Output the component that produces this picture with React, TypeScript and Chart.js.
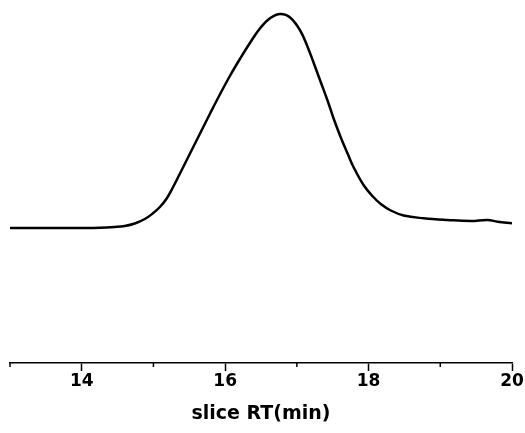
import React, { useEffect, useRef } from "react";
import { Chart, registerables } from "chart.js";

Chart.register(...registerables);

// retention time (min)
const rt: number[] = [
  13.0, 13.55, 13.97, 14.25, 14.46, 14.6, 14.74, 14.88, 14.99, 15.09,
  15.18, 15.26, 15.37, 15.51, 15.65, 15.79, 15.93, 16.07, 16.21, 16.35,
  16.49, 16.63, 16.77, 16.91, 17.05, 17.15, 17.23, 17.33, 17.43, 17.51,
  17.61, 17.71, 17.79, 17.93, 18.06, 18.17, 18.31, 18.49, 18.77, 19.1,
  19.43, 19.66, 19.8, 20.0,
];
// detector signal (arbitrary units)
const signal: number[] = [
  135, 135, 135, 135.2, 136, 137, 139.5, 144, 149.5, 156,
  164, 174, 189.5, 209.5, 229.5, 249.5, 269, 287.5, 304.5, 320.5,
  335, 345, 349, 345.3, 332, 316, 301, 281.5, 262, 245,
  226, 209, 196, 178, 166.5, 159, 152.5, 147.5, 144.7, 143,
  142, 143, 141.3, 139.7,
];
const majorTicks: number[] = [14, 16, 18, 20];
const minorTicks: number[] = [13, 15, 17, 19];
const xTitle = "slice RT(min)";

export default function App() {
  const ref = useRef<HTMLCanvasElement | null>(null);
  useEffect(() => {
    if (!ref.current) return;
    const minorPlugin = {
      id: "minorTicks",
      afterDraw(chart: any) {
        const sx = chart.scales.x;
        const ctx = chart.ctx;
        ctx.save();
        ctx.strokeStyle = "#000";
        ctx.lineWidth = 1.5;
        const y0 = sx.top;
        for (const v of minorTicks) {
          const px = sx.getPixelForValue(v);
          ctx.beginPath();
          ctx.moveTo(px, y0);
          ctx.lineTo(px, y0 + 4);
          ctx.stroke();
        }
        ctx.restore();
      },
    };
    const chart = new Chart(ref.current, {
      type: "line",
      data: {
        datasets: [
          {
            data: rt.map((x, i) => ({ x, y: signal[i] })),
            borderColor: "#000",
            borderWidth: 2.5,
            pointRadius: 0,
            tension: 0.4,
            fill: false,
          },
        ],
      },
      options: {
        responsive: false,
        animation: false,
        layout: { padding: { left: 10, right: 13, top: 0, bottom: 0 } },
        plugins: { legend: { display: false }, tooltip: { enabled: false } },
        scales: {
          x: {
            type: "linear",
            min: 13,
            max: 20,
            afterFit(scale: any) {
              scale.height = 70;
            },
            afterBuildTicks(scale: any) {
              scale.ticks = [13, ...majorTicks].map((v) => ({ value: v }));
            },
            border: { display: true, color: "#000", width: 1.5 },
            grid: {
              drawOnChartArea: false,
              drawTicks: true,
              tickLength: 8,
              tickWidth: 1.5,
              tickColor: (c: any) =>
                majorTicks.includes(c.tick?.value) ? "#000" : "rgba(0,0,0,0)",
            },
            ticks: {
              padding: 0,
              color: "#000",
              maxRotation: 0,
              autoSkip: false,
              font: { family: "DejaVu Sans", weight: "bold", size: 17 },
              callback: (v: any) => (majorTicks.includes(Number(v)) ? String(v) : ""),
            },
            title: {
              display: true,
              text: xTitle,
              color: "#000",
              font: { family: "DejaVu Sans", weight: "bold", size: 19 },
              padding: { top: 0, bottom: 8 },
            },
          },
          y: {
            display: false,
            min: 0,
            max: 363,
          },
        },
      },
      plugins: [minorPlugin],
    });
    return () => chart.destroy();
  }, []);
  return (
    <div style={{ position: "fixed", left: 0, top: 0, width: 525, height: 433, background: "#fff" }}>
      <canvas ref={ref} width={525} height={433} />
    </div>
  );
}
